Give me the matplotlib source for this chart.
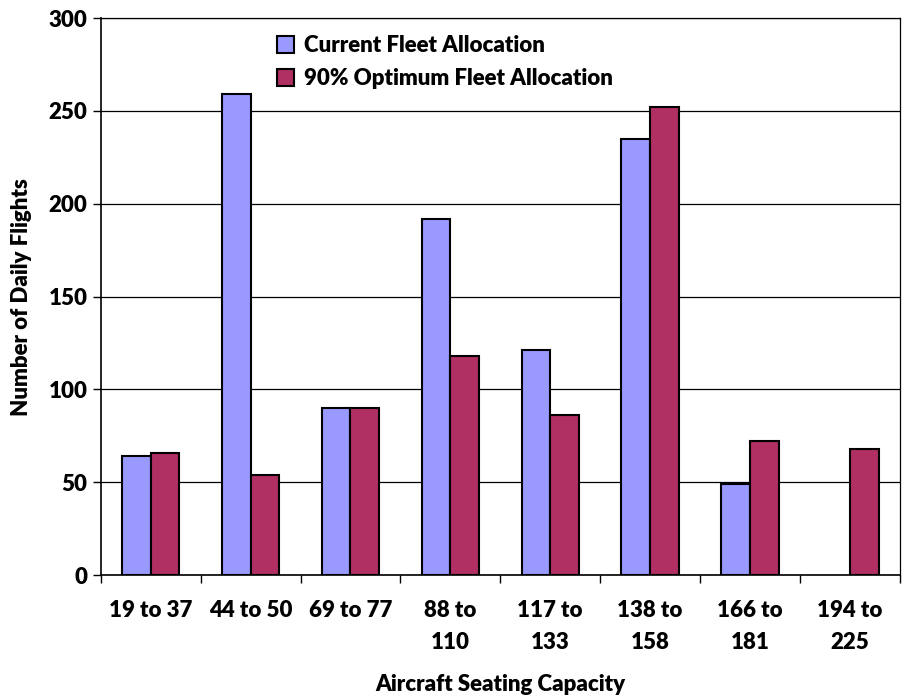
import matplotlib.pyplot as plt
import numpy as np

# data
categories = ["19 to 37", "44 to 50", "69 to 77", "88 to\n110", "117 to\n133",
              "138 to\n158", "166 to\n181", "194 to\n225"]
current = [64, 259, 90, 192, 121, 235, 49, 0]
optimum = [66, 54, 90, 118, 86, 252, 72, 68]

plt.rcParams['font.family'] = ['Lato', 'DejaVu Sans']
FW = "heavy"
FS = 16

fig = plt.figure(figsize=(9.08, 6.98), dpi=100)
ax = fig.add_axes([0.111, 0.176, 0.880, 0.798])

x = np.arange(len(categories))
w = 0.287
# empty categories are not drawn (no outline on the axis)
cur = np.where(np.array(current) == 0, np.nan, current)
ax.bar(x - w / 2, cur, w, color="#9999FF", edgecolor="black", linewidth=1.5,
       label="Current Fleet Allocation", zorder=3)
ax.bar(x + w / 2, optimum, w, color="#B03064", edgecolor="black", linewidth=1.5,
       label="90% Optimum Fleet Allocation", zorder=3)

ax.set_xlim(-0.5, len(categories) - 0.5)
ax.set_ylim(0, 300)
ax.set_yticks(range(0, 301, 50))
ax.yaxis.grid(True, color="black", linewidth=0.9, zorder=0)

# category labels centered, ticks at the boundaries
ax.set_xticks(x)
ax.set_xticklabels(categories, fontsize=FS, fontweight=FW, linespacing=1.65,
                   va="top")
ax.tick_params(axis="x", length=0, pad=18)
ax.set_xticks(np.arange(-0.5, len(categories)), minor=True)
ax.tick_params(axis="x", which="minor", length=6, width=1, direction="out")
ax.tick_params(axis="y", length=6, width=1, labelsize=FS, direction="out")
for t in ax.get_yticklabels():
    t.set_fontweight(FW)

for s in ["left", "bottom"]:
    ax.spines[s].set_linewidth(1.2)
for s in ["top", "right"]:
    ax.spines[s].set_linewidth(0.9)

ax.set_xlabel("Aircraft Seating Capacity", fontsize=FS, fontweight=FW, va="center")
ax.xaxis.set_label_coords(0.5, -0.197)
ax.set_ylabel("Number of Daily Flights", fontsize=FS, fontweight=FW, va="center")
ax.yaxis.set_label_coords(-0.099, 0.5)

leg = ax.legend(loc="upper left", bbox_to_anchor=(0.195, 1.006), frameon=False,
                prop={"size": FS, "weight": FW}, handlelength=0.8, handleheight=0.8,
                handletextpad=0.45, labelspacing=0.55)

fig.savefig("out.png", dpi=100)
